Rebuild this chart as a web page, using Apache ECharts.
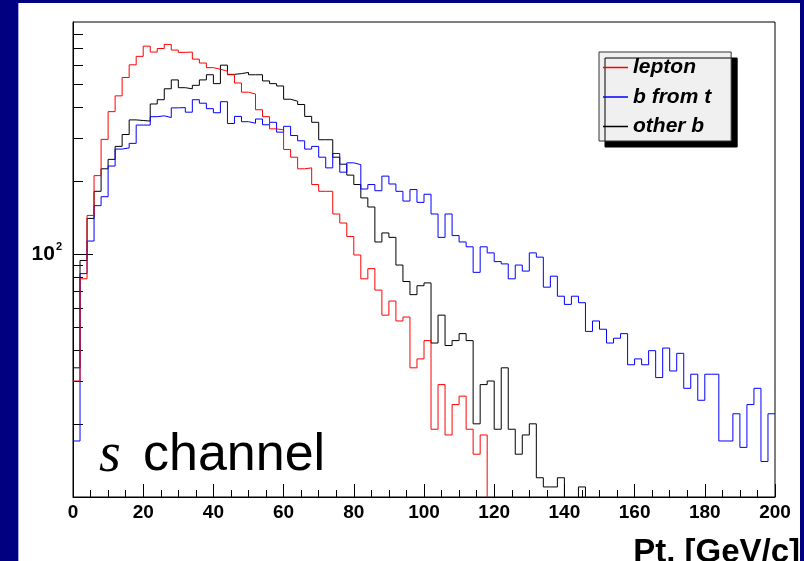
<!DOCTYPE html>
<html>
<head>
<meta charset="utf-8">
<script src="https://cdn.jsdelivr.net/npm/echarts@6/dist/echarts.min.js"></script>
<style>
  html, body { margin: 0; padding: 0; width: 804px; height: 561px; overflow: hidden; background: #000080; }
  #paper { position: absolute; left: 18px; top: 3px; width: 782px; height: 558px; background: #ffffff; border-left: 1px solid #a8a8e8; box-sizing: border-box; }
  #chart { position: absolute; left: 0; top: 0; width: 804px; height: 561px; }
</style>
</head>
<body>
<div id="paper"></div>
<div id="chart"></div>
<script>
// Transverse momentum spectra, s-channel single top: 100 bins of 2 GeV/c from 0 to 200.
const binWidth = 2;
const ptRange = [0, 200];
const countRange = [10, 900];
const xTickStep = 20;

const seriesNames = ['lepton', 'b from t', 'other b'];
const seriesColors = ['#ff0000', '#0000ff', '#000000'];

// Entries per bin (bins below 10 fall under the axis floor)
const lepton = [
  30, 79, 144, 210, 296, 385, 447, 532, 600, 650,
  716, 677, 700, 728, 690, 675, 677, 633, 610, 584,
  575, 565, 546, 505, 463, 455, 392, 367, 327, 324,
  269, 250, 224, 226, 193, 181, 181, 146, 134, 118,
  99, 79, 87, 71, 56, 64, 53, 55, 34, 37,
  44, 19, 29, 18, 24, 26, 19, 15, 18, 8,
  6, 9, 5, 7, 6, 4, 5, 3, 4, 5,
  3, 2, 4, 2, 3, 1, 2, 2, 1, 1,
  2, 1, 1, 1, 2, 1, 1, 1, 1, 1,
  1, 1, 1, 1, 1, 1, 1, 1, 1, 1
];
const bFromT = [
  17, 83, 113, 158, 172, 230, 270, 273, 285, 339,
  339, 367, 370, 364, 399, 400, 383, 431, 417, 396,
  381, 423, 344, 368, 350, 345, 359, 340, 348, 317,
  335, 307, 292, 270, 277, 250, 226, 259, 217, 237,
  233, 185, 193, 182, 209, 194, 181, 165, 184, 163,
  176, 146, 117, 146, 119, 112, 107, 84, 107, 101,
  93, 91, 79, 90, 85, 101, 97, 73, 81, 67,
  62, 67, 63, 48, 53, 49, 43, 45, 47, 35,
  37, 35, 40, 31, 41, 33, 39, 28, 32, 25,
  32, 32, 17, 17, 22, 16, 24, 28, 14, 22
];
const otherB = [
  34, 94, 140, 181, 224, 245, 277, 310, 356, 354,
  352, 414, 431, 478, 520, 483, 478, 494, 520, 546,
  502, 598, 548, 552, 558, 546, 546, 515, 502, 491,
  433, 425, 412, 368, 348, 295, 295, 250, 234, 211,
  193, 170, 156, 112, 122, 117, 90, 77, 68, 74,
  76, 43, 56, 42, 44, 47, 44, 20, 29, 30,
  19, 34, 19, 15, 18, 20, 12, 11, 11, 12,
  6, 8, 11, 7, 5, 6, 4, 5, 3, 4,
  3, 2, 3, 2, 1, 2, 1, 1, 2, 1,
  1, 1, 1, 1, 1, 1, 1, 1, 1, 1
];

// Log-axis tick marks
const yMinorTicks = [20, 30, 40, 50, 60, 70, 80, 90, 200, 300, 400, 500, 600, 700, 800];
const yMajorTicks = [100];

// Histogram outline: one point at each bin's low edge, plus the closing high edge
function histSteps(counts) {
  const pts = counts.map((c, i) => [ptRange[0] + i * binWidth, c]);
  pts.push([ptRange[0] + counts.length * binWidth, counts[counts.length - 1]]);
  return pts;
}

const FONT = '"Liberation Sans", Arial, Helvetica, sans-serif';
const logMin = Math.log10(countRange[0]);
const logMax = Math.log10(countRange[1]);

const chart = echarts.init(document.getElementById('chart'), null, { renderer: 'canvas' });

const tickAxisBase = {
  type: 'value',
  position: 'left',
  min: logMin,
  max: logMax,
  axisLine: { show: false },
  splitLine: { show: false }
};

chart.setOption({
  animation: false,
  grid: {
    left: 73, right: 29, top: 22, bottom: 64,
    show: true, borderColor: '#000', borderWidth: 1, backgroundColor: 'transparent'
  },
  legend: {
    orient: 'vertical',
    left: 599, top: 52,
    padding: [5, 20, 4, 4],
    itemGap: 8.5,
    itemWidth: 25, itemHeight: 1.5,
    icon: 'rect',
    backgroundColor: '#f0f0f0',
    borderColor: '#333',
    borderWidth: 1,
    shadowColor: '#000',
    shadowBlur: 0,
    shadowOffsetX: 6,
    shadowOffsetY: 6,
    textStyle: { fontFamily: FONT, fontWeight: 'bold', fontStyle: 'italic', fontSize: 21, lineHeight: 21, color: '#000' },
    data: seriesNames
  },
  xAxis: {
    type: 'value',
    min: ptRange[0], max: ptRange[1], interval: xTickStep,
    axisLine: { lineStyle: { color: '#000', width: 1 } },
    axisTick: { inside: true, length: 13, lineStyle: { color: '#000' } },
    minorTick: { show: true, splitNumber: 4, length: 7, lineStyle: { color: '#000' } },
    splitLine: { show: false },
    axisLabel: { margin: 6, fontFamily: FONT, fontWeight: 'bold', fontSize: 19, color: '#000' }
  },
  yAxis: [
    {
      type: 'log', logBase: 10,
      min: countRange[0], max: countRange[1],
      axisLine: { lineStyle: { color: '#000', width: 1 } },
      axisTick: { show: false },
      axisLabel: { show: false },
      splitLine: { show: false }
    },
    Object.assign({}, tickAxisBase, {
      axisTick: { inside: true, length: 10, lineStyle: { color: '#000' }, customValues: yMinorTicks.map(Math.log10) },
      axisLabel: { show: false }
    }),
    Object.assign({}, tickAxisBase, {
      axisTick: { inside: true, length: 20, lineStyle: { color: '#000' }, customValues: yMajorTicks.map(Math.log10) },
      axisLabel: {
        margin: 11,
        customValues: yMajorTicks.map(Math.log10),
        formatter: v => '{b|10}{s|' + Math.round(v) + '}',
        rich: {
          b: { fontFamily: FONT, fontWeight: 'bold', fontSize: 21, color: '#000' },
          s: { fontFamily: FONT, fontWeight: 'bold', fontSize: 11, color: '#000', padding: [0, 0, 14, 1] }
        }
      }
    })
  ],
  series: [lepton, bFromT, otherB].map((counts, k) => ({
    name: seriesNames[k],
    type: 'line',
    step: 'end',
    yAxisIndex: 0,
    showSymbol: false,
    symbol: 'none',
    clip: true,
    color: seriesColors[k],
    lineStyle: { color: seriesColors[k], width: 1 },
    data: histSteps(counts),
    z: 3 - k
  })),
  graphic: [
    {
      type: 'text', x: 99, y: 484,
      style: { text: 's', font: 'italic 56px "Liberation Serif", "DejaVu Serif", serif', fill: '#000', verticalAlign: 'bottom' }
    },
    {
      type: 'text', x: 143, y: 482,
      style: { text: 'channel', font: '52px ' + FONT, fill: '#000', verticalAlign: 'bottom' }
    },
    {
      type: 'text', x: 800, y: 536,
      style: { text: 'Pt. [GeV/c]', font: 'bold 33px ' + FONT, fill: '#000', align: 'right', verticalAlign: 'top' }
    }
  ]
});
</script>
</body>
</html>
